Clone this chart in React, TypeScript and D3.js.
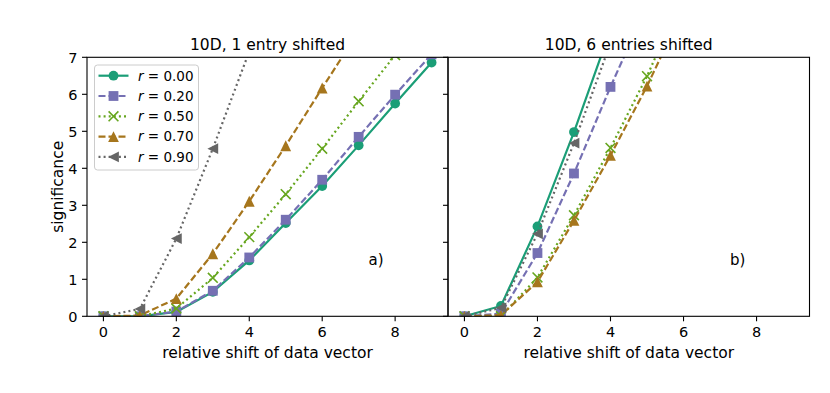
import React from 'react';
import * as d3 from 'd3';

// x values: relative shift of the data vector (series use index as x)
const shifts = [0, 1, 2, 3, 4, 5, 6, 7, 8, 9];
const rLabels = ['0.00', '0.20', '0.50', '0.70', '0.90'];
const titles = ['10D, 1 entry shifted', '10D, 6 entries shifted'];
const panelTags = ['a)', 'b)'];
const xTicks = [0, 2, 4, 6, 8];
const yTicks = [0, 1, 2, 3, 4, 5, 6, 7];

// panel a) 1 entry shifted
const a_r00 = [0, 0, 0.12, 0.66, 1.51, 2.52, 3.52, 4.62, 5.75, 6.86];
const a_r20 = [0, 0, 0.13, 0.69, 1.59, 2.61, 3.69, 4.85, 5.99, 7.08];
const a_r50 = [0, 0, 0.21, 1.04, 2.14, 3.3, 4.53, 5.81, 7.06, 8.3];
const a_r70 = [0, 0.02, 0.48, 1.69, 3.11, 4.61, 6.17, 7.7];
const a_r90 = [0, 0.2, 2.1, 4.53, 7.16];

// panel b) 6 entries shifted
const b_r00 = [0, 0.28, 2.43, 4.98, 7.75];
const b_r20 = [0, 0.07, 1.71, 3.86, 6.2, 8.4];
const b_r50 = [0, 0.0, 1.05, 2.73, 4.55, 6.49, 8.7];
const b_r70 = [0, 0.03, 0.93, 2.59, 4.35, 6.22, 8.3];
const b_r90 = [0, 0.23, 2.23, 4.68, 7.38];

const panelData = [
  [a_r00, a_r20, a_r50, a_r70, a_r90],
  [b_r00, b_r20, b_r50, b_r70, b_r90],
];

const colors = ['#1b9e77', '#7570b3', '#66a61e', '#a6761d', '#666666'];
const dashes = ['none', '7,3', '2,3.1', '7,3', '2,3.1'];
const markers = ['circle', 'square', 'x', 'triUp', 'triLeft'];

const FONT = 'DejaVu Sans, sans-serif';
const TOP = 57.3;
const BOTTOM = 316.3;
const panelsX = [
  [87, 448],
  [448, 809.5],
];

function Marker({ kind, x, y, color }: { kind: string; x: number; y: number; color: string }) {
  const s = 4.9;
  if (kind === 'circle') return <circle cx={x} cy={y} r={s} fill={color} />;
  if (kind === 'square')
    return <rect x={x - s} y={y - s} width={2 * s} height={2 * s} fill={color} />;
  if (kind === 'x')
    return (
      <path
        d={`M${x - s},${y - s}L${x + s},${y + s}M${x - s},${y + s}L${x + s},${y - s}`}
        stroke={color}
        strokeWidth={1.6}
        fill="none"
      />
    );
  if (kind === 'triUp')
    return <path d={`M${x},${y - s - 0.5}L${x + s + 0.5},${y + s + 0.5}L${x - s - 0.5},${y + s + 0.5}Z`} fill={color} />;
  return <path d={`M${x - s - 0.5},${y}L${x + s + 0.5},${y - s - 0.5}L${x + s + 0.5},${y + s + 0.5}Z`} fill={color} />;
}

const App = () => {
  const y = d3.scaleLinear().domain([0, 7]).range([BOTTOM, TOP]);

  return (
    <svg width={830} height={393} style={{ display: 'block', position: 'absolute', left: 0, top: 0 }} fontFamily={FONT}>
      <rect width={830} height={393} fill="white" />
      <defs>
        {panelsX.map(([l, r], p) => (
          <clipPath id={`clip${p}`} key={p}>
            <rect x={l} y={TOP} width={r - l} height={BOTTOM - TOP} />
          </clipPath>
        ))}
      </defs>
      {panelsX.map(([l, r], p) => {
        const x = d3.scaleLinear().domain([-0.45, 9.45]).range([l, r]);
        const line = d3
          .line<number>()
          .x((_, i) => x(shifts[i]))
          .y((d) => y(d));
        return (
          <g key={p}>
            <g clipPath={`url(#clip${p})`}>
              {panelData[p].map((vals, s) => (
                <g key={s}>
                  <path
                    d={line(vals) || ''}
                    fill="none"
                    stroke={colors[s]}
                    strokeWidth={2.2}
                    strokeDasharray={dashes[s]}
                  />
                  {vals.map((v, i) => (
                    <Marker key={i} kind={markers[s]} x={x(shifts[i])} y={y(v)} color={colors[s]} />
                  ))}
                </g>
              ))}
            </g>
            {/* spines */}
            <rect x={l} y={TOP} width={r - l} height={BOTTOM - TOP} fill="none" stroke="black" strokeWidth={1.1} />
            {/* x ticks */}
            {xTicks.map((t) => (
              <g key={t}>
                <line x1={x(t)} x2={x(t)} y1={BOTTOM} y2={BOTTOM + 5} stroke="black" strokeWidth={1.1} />
                <text x={x(t)} y={337.3} textAnchor="middle" fontSize={14.5}>
                  {t}
                </text>
              </g>
            ))}
            {/* y ticks */}
            {yTicks.map((t) => (
              <g key={t}>
                <line x1={l - 5} x2={l} y1={y(t)} y2={y(t)} stroke="black" strokeWidth={1.1} />
                {p === 0 && (
                  <text x={l - 9.5} y={y(t) + 5.2} textAnchor="end" fontSize={14.5}>
                    {t}
                  </text>
                )}
              </g>
            ))}
            <text x={(l + r) / 2} y={49.5} textAnchor="middle" fontSize={15.5}>
              {titles[p]}
            </text>
            <text x={(l + r) / 2} y={358.3} textAnchor="middle" fontSize={15.5}>
              relative shift of data vector
            </text>
            <text x={l + (r - l) * 0.78} y={265} fontSize={15}>
              {panelTags[p]}
            </text>
          </g>
        );
      })}
      <text transform={`translate(63,${(TOP + BOTTOM) / 2}) rotate(-90)`} textAnchor="middle" fontSize={15.5}>
        significance
      </text>
      {/* legend */}
      <g>
        <rect x={94.5} y={65} width={104} height={105} rx={3} fill="white" fillOpacity={0.8} stroke="#cccccc" strokeWidth={1} />
        {rLabels.map((lab, s) => {
          const ly = 75.7 + s * 20.3;
          return (
            <g key={s}>
              <line x1={98.5} x2={128.5} y1={ly} y2={ly} stroke={colors[s]} strokeWidth={2.2} strokeDasharray={dashes[s]} />
              <Marker kind={markers[s]} x={113.5} y={ly} color={colors[s]} />
              <text x={138} y={ly + 4.8} fontSize={13.5}>
                <tspan fontStyle="italic">r</tspan>
                <tspan> = {lab}</tspan>
              </text>
            </g>
          );
        })}
      </g>
    </svg>
  );
};

export default App;
